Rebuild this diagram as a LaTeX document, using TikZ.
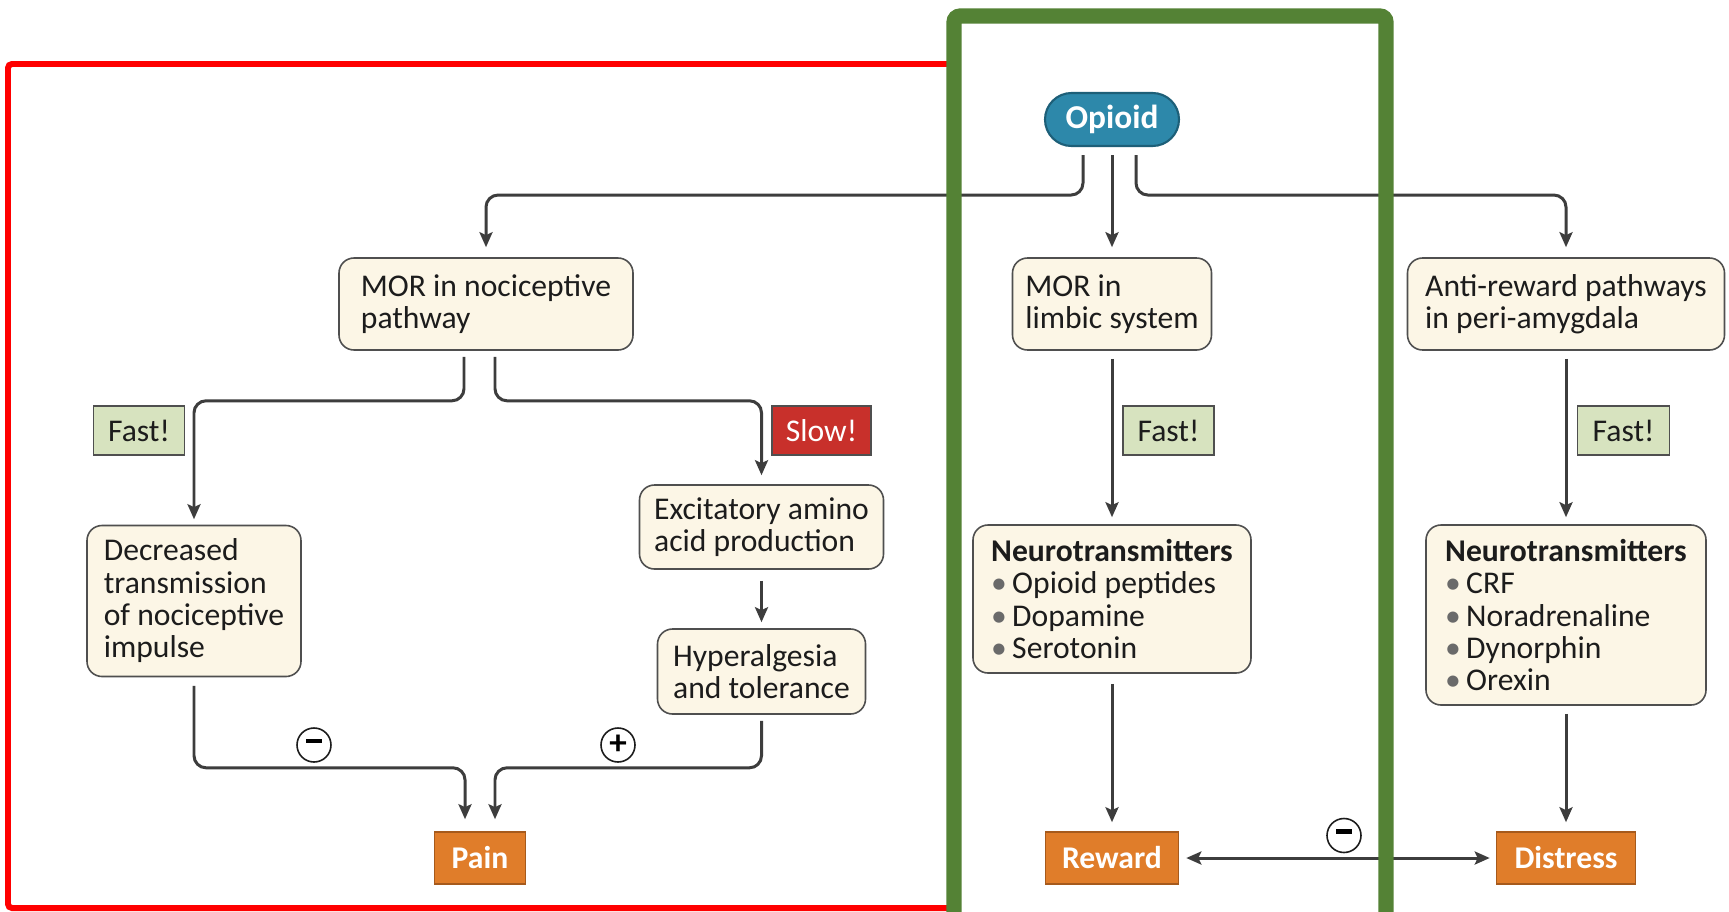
\documentclass[tikz,border=0pt]{standalone}
\usepackage{fontspec}
\setmainfont{Carlito}
\usepackage{tikz}
\usetikzlibrary{arrows.meta}
\definecolor{cream}{HTML}{FCF6E6}
\definecolor{boxgray}{HTML}{4F4F4F}
\definecolor{txtblack}{HTML}{1C1C1C}
\definecolor{linegray}{HTML}{3D3D3D}
\definecolor{fastgreen}{HTML}{D7E3BF}
\definecolor{slowred}{HTML}{C8302B}
\definecolor{outorange}{HTML}{E07D2A}
\definecolor{orangedark}{HTML}{A65A1C}
\definecolor{opioidblue}{HTML}{2D88AA}
\definecolor{opioiddark}{HTML}{1D5F78}
\definecolor{framegreen}{HTML}{548235}
\definecolor{bulletgray}{HTML}{6A6A6A}
\tikzset{
    procbox/.style={draw=boxgray, fill=cream, rounded corners=0.15cm, line width=0.45pt,
        align=left, inner sep=0pt, text=txtblack, font=\fontsize{9}{9.2}\selectfont},
    tagbox/.style={draw=boxgray, line width=0.45pt, inner sep=0pt, minimum height=0.49cm,
        font=\fontsize{9}{9.2}\selectfont},
    outbox/.style={draw=orangedark, fill=outorange, text=white, line width=0.45pt, inner sep=0pt,
        minimum height=0.52cm, font=\bfseries\fontsize{9}{9.2}\selectfont},
    signnode/.style={circle, draw=txtblack, fill=white, line width=0.45pt, minimum size=0.34cm,
        inner sep=0pt, font=\bfseries\fontsize{10}{10}\selectfont},
    tip/.tip={Stealth[length=0.15cm, width=0.13cm, inset=0.03cm]},
    flow/.style={draw=linegray, line width=0.85pt, rounded corners=0.12cm, -tip},
    flowboth/.style={draw=linegray, line width=0.85pt, tip-tip}
}
\newcommand{\bul}{{\color{bulletgray}\textbullet}\,}
\newcommand{\minussign}{\rule[2.2pt]{4.3pt}{1.25pt}}

\begin{document}
\begin{tikzpicture}
    \useasboundingbox (0,0) rectangle (17.29,9.11);
    \fill[white] (0,0) rectangle (17.29,9.11);

    % ---------------- red frame ----------------
    \draw[red, line width=1.7pt, rounded corners=0.04cm] (9.54,8.47) -- (0.08,8.47) -- (0.08,0.03) -- (9.54,0.03);

    % ---------------- top ----------------
    \node[draw=opioiddark, fill=opioidblue, text=white, line width=0.6pt, rounded corners=0.265cm,
        minimum width=1.34cm, minimum height=0.53cm, inner sep=0pt,
        font=\bfseries\fontsize{9.5}{9.5}\selectfont] (opioid) at (11.12,7.915) {Opioid};

    \node[procbox, minimum width=2.94cm, minimum height=0.92cm] (mornoci) at (4.86,6.07) {MOR in nociceptive\\pathway};
    \node[procbox, minimum width=1.99cm, minimum height=0.92cm] (morlimbic) at (11.12,6.07) {MOR in\\limbic system};
    \node[procbox, minimum width=3.17cm, minimum height=0.92cm] (antireward) at (15.66,6.07) {Anti-reward pathways\\in peri-amygdala};

    % ---------------- pain side ----------------
    \node[tagbox, fill=fastgreen, text=txtblack, minimum width=0.91cm] (fastnoci) at (1.39,4.805) {Fast!};
    \node[tagbox, fill=slowred, text=white, minimum width=0.99cm] (slownoci) at (8.215,4.805) {Slow!};

    \node[procbox, minimum width=2.14cm, minimum height=1.51cm] (decreased) at (1.94,3.10) {Decreased\\transmission\\of nociceptive\\impulse};
    \node[procbox, minimum width=2.44cm, minimum height=0.84cm] (excitatory) at (7.615,3.84) {Excitatory amino\\acid production};
    \node[procbox, minimum width=2.08cm, minimum height=0.85cm] (hyperalg) at (7.615,2.395) {Hyperalgesia\\and tolerance};

    \node[outbox, minimum width=0.91cm] (pain) at (4.80,0.53) {Pain};
    \node[signnode] (minusnoci) at (3.14,1.66) {\minussign};
    \node[signnode] (plusnoci) at (6.18,1.66) {+};

    % ---------------- reward / distress ----------------
    \node[tagbox, fill=fastgreen, text=txtblack, minimum width=0.91cm] (fastlimbic) at (11.685,4.805) {Fast!};
    \node[tagbox, fill=fastgreen, text=txtblack, minimum width=0.92cm] (fastanti) at (16.236,4.805) {Fast!};

    \node[procbox, minimum width=2.78cm, minimum height=1.48cm] (ntreward) at (11.12,3.12)
        {\textbf{Neurotransmitters}\\\bul Opioid peptides\\\bul Dopamine\\\bul Serotonin};
    \node[procbox, minimum width=2.80cm, minimum height=1.80cm] (ntdistress) at (15.66,2.96)
        {\textbf{Neurotransmitters}\\\bul CRF\\\bul Noradrenaline\\\bul Dynorphin\\\bul Orexin};

    \node[outbox, minimum width=1.33cm] (reward) at (11.12,0.53) {Reward};
    \node[outbox, minimum width=1.39cm] (distress) at (15.66,0.53) {Distress};
    \node[signnode] (minusrd) at (13.44,0.755) {\minussign};

    % ---------------- connectors ----------------
    \draw[flow] ([xshift=-0.29cm,yshift=-0.08cm]opioid.south) -- ++(0,-0.40) -| ([yshift=0.10cm]mornoci.north);
    \draw[flow] ([yshift=-0.08cm]opioid.south) -- ([yshift=0.10cm]morlimbic.north);
    \draw[flow] ([xshift=0.24cm,yshift=-0.08cm]opioid.south) -- ++(0,-0.40) -| ([yshift=0.10cm]antireward.north);

    \draw[flow] ([xshift=-0.22cm,yshift=-0.06cm]mornoci.south) -- ++(0,-0.44) -| ([yshift=0.055cm]decreased.north);
    \draw[flow] ([xshift=0.09cm,yshift=-0.06cm]mornoci.south) -- ++(0,-0.44) -| ([yshift=0.09cm]excitatory.north);
    \draw[flow] ([yshift=-0.11cm]excitatory.south) -- ([yshift=0.06cm]hyperalg.north);

    \draw[flow] ([yshift=-0.085cm]decreased.south) -- ++(0,-0.82) -| ([xshift=-0.15cm,yshift=0.12cm]pain.north);
    \draw[flow] ([yshift=-0.06cm]hyperalg.south) -- ++(0,-0.47) -| ([xshift=0.15cm,yshift=0.12cm]pain.north);

    \draw[flow] ([yshift=-0.08cm]morlimbic.south) -- ([yshift=0.07cm]ntreward.north);
    \draw[flow] ([yshift=-0.10cm]ntreward.south) -- ([yshift=0.09cm]reward.north);
    \draw[flow] ([yshift=-0.08cm]antireward.south) -- ([yshift=0.07cm]ntdistress.north);
    \draw[flow] ([yshift=-0.08cm]ntdistress.south) -- ([yshift=0.09cm]distress.north);

    \draw[flowboth] ([xshift=0.07cm]reward.east) -- ([xshift=-0.06cm]distress.west);

    % ---------------- green frame ----------------
    \draw[framegreen, line width=4.3pt, rounded corners=0.06cm] (9.54,-0.3) -- (9.54,8.95) -- (13.86,8.95) -- (13.86,-0.3);
\end{tikzpicture}
\end{document}
